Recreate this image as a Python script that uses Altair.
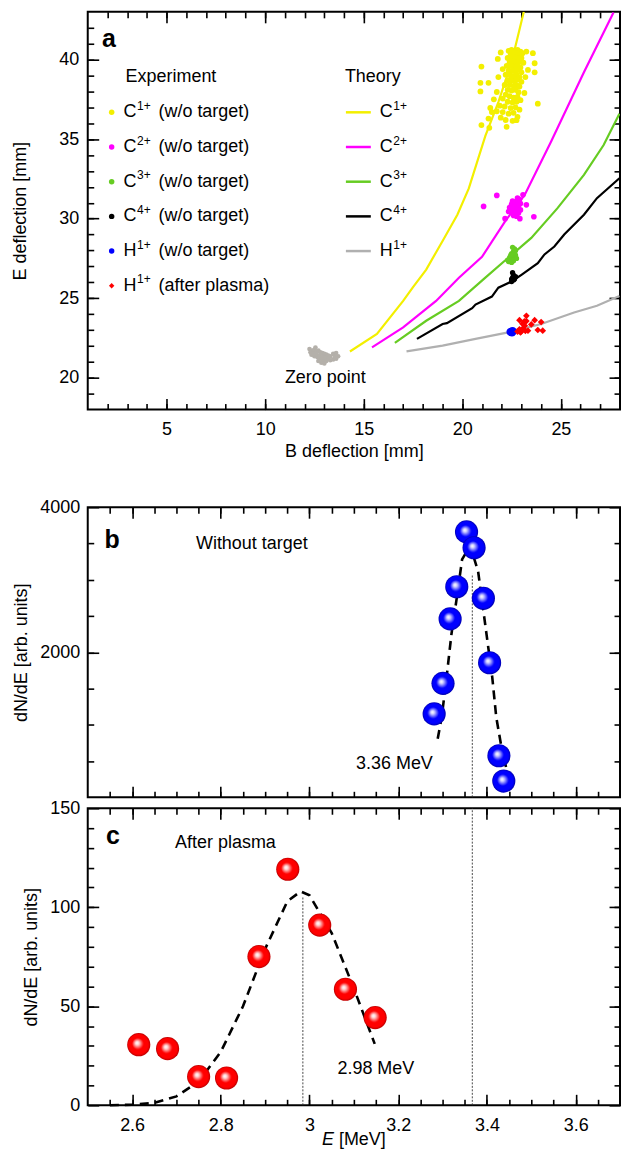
import altair as alt
import pandas as pd

FONT = "Liberation Sans"
FS = 18

# ---------------- panel a : theory curves ----------------
th_c1_x = [14.3, 15.67, 17.0, 17.5, 18.17, 19.0, 19.75, 20.33, 21.17, 21.83, 22.5, 23.12]
th_c1_y = [21.65, 22.75, 24.83, 25.7, 26.8, 28.6, 30.25, 31.9, 35.2, 37.33, 39.83, 43.0]
th_c2_x = [15.42, 17.0, 18.67, 19.83, 21.0, 22.17, 23.17, 24.5, 26.17, 27.67]
th_c2_y = [21.91, 23.16, 24.83, 26.29, 27.6, 29.83, 31.5, 34.83, 39.2, 42.96]
th_c3_x = [16.58, 18.17, 19.83, 21.17, 22.33, 23.5, 24.83, 26.17, 27.17, 27.97]
th_c3_y = [22.19, 23.58, 24.83, 26.29, 27.54, 28.79, 30.66, 32.75, 34.63, 36.6]
th_c4_x = [17.7, 19.0, 19.22, 20.5, 20.67, 21.5, 21.83, 22.5, 23.0, 23.83, 24.17, 24.67, 25.17, 26.17, 26.83, 27.97]
th_c4_y = [22.44, 23.38, 23.43, 24.37, 24.6, 25.1, 25.66, 26.05, 26.47, 27.2, 27.75, 28.25, 29.0, 30.25, 31.29, 32.54]
th_h1_x = [17.17, 19.0, 20.67, 22.33, 24.0, 25.67, 26.83, 27.97]
th_h1_y = [21.66, 22.02, 22.44, 22.85, 23.38, 24.1, 24.52, 25.14]

# ---------------- panel a : experiment ----------------
exp_c1_x = [22.35, 22.50, 22.65, 22.80, 22.95, 22.45, 22.60, 22.75, 22.90, 23.05,
            22.30, 22.55, 22.70, 22.85, 23.00, 22.40, 22.60, 22.75, 22.90, 23.10,
            22.25, 22.50, 22.65, 22.80, 22.95, 22.35, 22.55, 22.70, 22.85, 23.00,
            22.20, 22.45, 22.60, 22.75, 22.90, 22.30, 22.50, 22.65, 22.80, 23.00,
            22.15, 22.40, 22.60, 22.75, 22.90, 22.30, 22.50, 22.70, 22.85, 22.20,
            22.40, 22.60, 22.80, 22.05, 22.30, 22.55, 22.75, 22.95, 21.90, 22.15,
            22.45, 22.70, 22.90, 21.75, 22.05, 22.35, 22.60, 22.80, 21.95, 22.20,
            22.55, 22.75, 20.97, 20.92, 21.33, 20.92, 21.95, 23.25, 23.58, 23.67,
            23.33, 23.67, 23.83, 21.42, 21.50, 21.33, 20.97, 21.37, 22.25, 21.80,
            21.83, 21.75, 22.05, 23.20, 23.15, 21.60]
exp_c1_y = [40.55, 40.60, 40.55, 40.60, 40.50, 40.35, 40.30, 40.40, 40.30, 40.40,
            40.10, 40.10, 40.15, 40.05, 40.10, 39.85, 39.90, 39.80, 39.85, 39.80,
            39.60, 39.60, 39.55, 39.60, 39.50, 39.30, 39.30, 39.25, 39.35, 39.20,
            39.05, 39.00, 38.95, 39.05, 38.90, 38.70, 38.70, 38.65, 38.75, 38.60,
            38.40, 38.40, 38.35, 38.40, 38.30, 38.10, 38.05, 38.10, 37.95, 37.80,
            37.70, 37.60, 37.65, 37.55, 37.35, 37.30, 37.35, 37.45, 37.10, 37.05,
            36.95, 37.00, 36.85, 36.75, 36.70, 36.60, 36.65, 36.40, 36.35, 36.20,
            36.15, 36.19, 39.56, 38.54, 38.54, 38.00, 40.45, 40.50, 40.40, 39.77,
            39.35, 39.20, 37.23, 36.96, 36.70, 36.29, 35.88, 35.71, 35.77, 40.04,
            38.90, 37.96, 39.40, 38.90, 37.90, 37.50]
exp_c2_x = [21.08, 21.75, 23.63, 23.25, 22.17, 23.08, 22.92, 22.45, 22.55, 22.65,
            22.75, 22.60, 22.80, 22.50, 22.85, 22.90, 22.65, 22.70, 22.40, 22.85,
            22.95, 22.70, 22.60, 22.85, 22.75, 22.55, 22.95, 22.35, 22.80, 22.70]
exp_c2_y = [30.77, 31.46, 30.12, 30.87, 30.00, 31.50, 30.00, 30.55, 30.75, 30.95,
            30.65, 30.40, 31.10, 30.90, 30.80, 31.20, 31.05, 30.30, 30.70, 30.35,
            30.55, 30.60, 30.20, 31.00, 30.15, 31.10, 30.95, 30.45, 31.30, 30.85]
exp_c3_x = [22.35, 22.45, 22.55, 22.50, 22.60, 22.65, 22.55, 22.70, 22.40, 22.60,
            22.75, 22.50, 22.65, 22.45, 22.70, 22.30]
exp_c3_y = [27.30, 27.45, 27.60, 27.80, 27.95, 28.10, 28.20, 27.70, 27.55, 27.35,
            27.50, 27.25, 27.85, 27.70, 28.00, 27.40]
exp_c4_x = [22.55, 22.60, 22.55, 22.60, 22.50, 22.65, 22.70, 22.50]
exp_c4_y = [26.60, 26.45, 26.30, 26.15, 26.05, 26.20, 26.35, 26.20]
exp_h1_x = [22.45, 22.52, 22.55]
exp_h1_y = [22.88, 22.85, 22.92]
exp_hp_x = [23.00, 23.25, 22.90, 23.67, 24.00, 24.08, 23.83, 23.17, 23.33, 22.80,
            23.08, 22.90, 23.15, 23.20, 23.50, 23.05, 23.25, 22.95]
exp_hp_y = [22.92, 23.89, 23.62, 23.62, 23.50, 22.96, 23.00, 23.27, 22.96, 22.90,
            23.10, 23.05, 23.55, 22.95, 23.35, 23.40, 23.56, 22.85]
zero_x = [12.30, 12.40, 12.50, 12.60, 12.70, 12.80, 12.90, 13.00, 13.10, 13.20,
          13.30, 13.45, 13.60, 13.70, 13.60, 13.45, 13.30, 13.10, 12.95, 12.80,
          12.65, 12.50, 12.35, 12.45, 12.60, 12.75, 12.90, 13.05, 13.20, 12.85,
          13.00, 12.25, 12.55, 13.55, 12.70]
zero_y = [21.60, 21.70, 21.75, 21.65, 21.70, 21.60, 21.55, 21.50, 21.45, 21.40,
          21.35, 21.50, 21.55, 21.35, 21.20, 21.15, 21.10, 21.05, 21.10, 21.20,
          21.30, 21.35, 21.45, 21.50, 21.50, 21.40, 21.30, 21.25, 21.20, 20.95,
          20.90, 21.80, 21.90, 21.30, 21.05]

# ---------------- panels b / c ----------------
b_E = [3.354, 3.371, 3.332, 3.392, 3.317, 3.406, 3.301, 3.281, 3.427, 3.438]
b_N = [3660, 3441, 2904, 2745, 2460, 1856, 1571, 1150, 573, 224]
b_fit_E = [3.289, 3.298, 3.309, 3.320, 3.331, 3.344, 3.362, 3.380, 3.398, 3.412, 3.421, 3.434, 3.443]
b_fit_N = [807, 1104, 1654, 2250, 2708, 3281, 3470, 3120, 2296, 1654, 1104, 646, 417]
c_E = [2.615, 2.680, 2.750, 2.813, 2.886, 2.951, 3.023, 3.081, 3.148]
c_N = [30.6, 28.6, 14.5, 13.8, 75.1, 119.2, 91.0, 58.6, 44.3]
c_fit_E = [2.55, 2.60, 2.65, 2.70, 2.75, 2.80, 2.85, 2.90, 2.95, 2.98, 3.00, 3.05, 3.10, 3.147]
c_fit_N = [0, 0.3, 1.2, 4.5, 12, 27, 50, 79, 103, 108, 106, 87, 59, 31]
peak_b_E, peak_b_top = 3.367, 3080
peak_c_E, peak_c_top = 2.985, 105

YELLOW, MAGENTA, GREEN, BLACK, BLUE, RED = "#f3ef00", "#ff00ff", "#66cc22", "#000000", "#0000ff", "#ff0000"
GRAY_LINE, GRAY_PTS = "#b0b0b0", "#b4b0aa"

MAJ, MIN = 11, 6
W = 534


def ax(orient, values, size, labels=False, title=None, fmt="d", lpad=8, tpad=8):
    kw = dict(orient=orient, values=values, tickSize=size, offset=-size, domain=False,
              grid=False, ticks=True, tickColor="black", tickWidth=1.6, labels=labels,
              title=title)
    if labels:
        kw.update(labelFont=FONT, labelFontSize=FS, labelColor="black", labelPadding=lpad,
                  labelOverlap=False, labelFlush=False, format=fmt)
    if title is not None:
        kw.update(titleFont=FONT, titleFontSize=FS, titleFontWeight="normal",
                  titleColor="black", titlePadding=tpad)
    return alt.Axis(**kw)


def axis_layers(xs, ys, x0, y0, xspec, yspec):
    dummy = pd.DataFrame({"x": [x0], "y": [y0]})
    return [alt.Chart(dummy).mark_point(opacity=0, size=1).encode(
        x=alt.X("x:Q", scale=xs, axis=xa_), y=alt.Y("y:Q", scale=ys, axis=ya_))
        for xa_, ya_ in zip(xspec, yspec)]


def xy(xs, ys):
    return pd.DataFrame({"x": xs, "y": ys})


# ================= panel a =================
XA = alt.Scale(domain=[1, 28], nice=False, zero=False)
YA = alt.Scale(domain=[18, 43], nice=False, zero=False)

theory = pd.concat([
    xy(th_c1_x, th_c1_y).assign(s="C1"), xy(th_c2_x, th_c2_y).assign(s="C2"),
    xy(th_c3_x, th_c3_y).assign(s="C3"), xy(th_c4_x, th_c4_y).assign(s="C4"),
    xy(th_h1_x, th_h1_y).assign(s="H1")])
th_dom = ["C1", "C2", "C3", "C4", "H1"]
th_col = [YELLOW, MAGENTA, GREEN, BLACK, GRAY_LINE]

lines_a = alt.Chart(theory).mark_line(strokeWidth=2.2, clip=True).encode(
    x=alt.X("x:Q", scale=XA, axis=None), y=alt.Y("y:Q", scale=YA, axis=None),
    color=alt.Color("s:N", scale=alt.Scale(domain=th_dom, range=th_col), legend=None),
    detail="s:N")


def dots(xs, ys, color, size, shape="circle"):
    return alt.Chart(xy(xs, ys)).mark_point(filled=True, opacity=1, size=size, shape=shape,
                                            color=color, strokeWidth=0).encode(
        x=alt.X("x:Q", scale=XA, axis=None), y=alt.Y("y:Q", scale=YA, axis=None))


pts_a = [dots(zero_x, zero_y, GRAY_PTS, 22), dots(exp_c1_x, exp_c1_y, YELLOW, 34),
         dots(exp_c2_x, exp_c2_y, MAGENTA, 32), dots(exp_c3_x, exp_c3_y, GREEN, 28),
         dots(exp_c4_x, exp_c4_y, BLACK, 28), dots(exp_h1_x, exp_h1_y, BLUE, 70),
         dots(exp_hp_x, exp_hp_y, RED, 45, "diamond")]

txt_a = [
    alt.Chart(pd.DataFrame({"x": [13.05], "y": [19.96], "t": ["Zero point"]})).mark_text(
        font=FONT, fontSize=FS, align="center", baseline="middle", color="black").encode(
        x=alt.X("x:Q", scale=XA, axis=None), y=alt.Y("y:Q", scale=YA, axis=None), text="t:N"),
    alt.Chart(pd.DataFrame({"x": [2.08], "y": [41.3], "t": ["a"]})).mark_text(
        font=FONT, fontSize=25, fontWeight="bold", align="center", baseline="middle",
        color="black").encode(
        x=alt.X("x:Q", scale=XA, axis=None), y=alt.Y("y:Q", scale=YA, axis=None), text="t:N"),
]

# legend (pixel layout inside panel a)
leg_base = ["C", "C", "C", "C", "H", "H"]
leg_sup = ["1+", "2+", "3+", "4+", "1+", "1+"]
leg_tail = ["(w/o target)"] * 5 + ["(after plasma)"]
leg_col = [YELLOW, MAGENTA, GREEN, BLACK, BLUE, RED]
leg_shape = ["circle"] * 5 + ["diamond"]
ROW0, DROW = 100.8, 34.8
rows = [ROW0 + i * DROW for i in range(6)]

exp_leg = pd.DataFrame({"py": rows, "base": leg_base, "sup": leg_sup, "tail": leg_tail,
                        "col": leg_col, "shp": leg_shape})
th_leg = exp_leg.iloc[:5].assign(col=th_col)


def ptext(df, xpx, field, size=FS, dy=0.0):
    return alt.Chart(df).mark_text(font=FONT, fontSize=size, align="left",
                                   baseline="middle", color="black", dx=xpx, dy=dy).encode(
        x=alt.value(0), y=alt.Y("py:Q", scale=None, axis=None), text=f"{field}:N")


leg_layers = [
    alt.Chart(exp_leg).mark_point(filled=True, opacity=1, size=30, strokeWidth=0).encode(
        x=alt.value(24), y=alt.Y("py:Q", scale=None, axis=None),
        color=alt.Color("col:N", scale=None), shape=alt.Shape("shp:N", scale=None)),
    ptext(exp_leg, 36, "base"), ptext(exp_leg, 49.5, "sup", 12, -6.5), ptext(exp_leg, 71, "tail"),
    alt.Chart(th_leg).mark_rule(strokeWidth=2.5).encode(
        x=alt.value(259), x2=alt.value(284), y=alt.Y("py:Q", scale=None, axis=None),
        color=alt.Color("col:N", scale=None)),
    ptext(th_leg, 293, "base"), ptext(th_leg, 306.5, "sup", 12, -6.5),
    alt.Chart(pd.DataFrame({"py": [65.0], "t": ["Experiment"]})).mark_text(
        font=FONT, fontSize=FS, align="left", baseline="middle", color="black", dx=38).encode(
        x=alt.value(0), y=alt.Y("py:Q", scale=None, axis=None), text="t:N"),
    alt.Chart(pd.DataFrame({"py": [65.0], "t": ["Theory"]})).mark_text(
        font=FONT, fontSize=FS, align="left", baseline="middle", color="black", dx=258).encode(
        x=alt.value(0), y=alt.Y("py:Q", scale=None, axis=None), text="t:N"),
]

a_x_major, a_x_minor = [5, 10, 15, 20, 25], list(range(2, 28))
a_y_major, a_y_minor = [20, 25, 30, 35, 40], list(range(19, 43))
axes_a = axis_layers(XA, YA, 1, 18,
                     [ax("bottom", a_x_major, MAJ, True, "B deflection [mm]", "d", 11, 4),
                      ax("bottom", a_x_minor, MIN), ax("top", a_x_major, MAJ), ax("top", a_x_minor, MIN)],
                     [ax("left", a_y_major, MAJ, True, "E deflection [mm]", "d", 9, 29),
                      ax("left", a_y_minor, MIN), ax("right", a_y_major, MAJ), ax("right", a_y_minor, MIN)])

panel_a = alt.layer(lines_a, *pts_a, *txt_a, *leg_layers, *axes_a).properties(
    width=W, height=399).resolve_axis(x="independent", y="independent")

# ================= panels b, c =================
XE = alt.Scale(domain=[2.5, 3.7], nice=False, zero=False)
YB = alt.Scale(domain=[0, 4000], nice=False)
YC = alt.Scale(domain=[0, 150], nice=False)

e_major = [2.6, 2.8, 3.0, 3.2, 3.4, 3.6]
e_minor = [round(2.55 + 0.05 * i, 2) for i in range(23)]


def ball_grad(light, mid, dark):
    return alt.RadialGradient(
        gradient="radial", x1=0.42, y1=0.42, r1=0, x2=0.5, y2=0.5, r2=0.5,
        stops=[alt.GradientStop(offset=0, color="#ffffff"),
               alt.GradientStop(offset=0.15, color=light),
               alt.GradientStop(offset=0.5, color=mid),
               alt.GradientStop(offset=0.85, color=mid),
               alt.GradientStop(offset=1, color=dark)])


def spectrum(E, N, fitE, fitN, peaks, YS, grad):
    enc = dict(x=alt.X("x:Q", scale=XE, axis=None), y=alt.Y("y:Q", scale=YS, axis=None))
    fit = alt.Chart(xy(fitE, fitN)).mark_line(color="black", strokeWidth=2.6,
                                               strokeDash=[9, 6]).encode(**enc)
    rule = alt.Chart(pd.DataFrame(peaks)).mark_rule(color="#333333", strokeWidth=0.9,
                                                    strokeDash=[2, 1.5]).encode(
        x=alt.X("x:Q", scale=XE, axis=None), y=alt.Y("y:Q", scale=YS, axis=None),
        y2="y2:Q")
    balls = alt.Chart(xy(E, N)).mark_point(filled=True, opacity=1, size=540, shape="circle",
                                           fill=grad, strokeWidth=0).encode(**enc)
    return [fit, rule, balls]


def ann(x, y, t, YS, align="left", size=FS, weight="normal"):
    return alt.Chart(pd.DataFrame({"x": [x], "y": [y], "t": [t]})).mark_text(
        font=FONT, fontSize=size, fontWeight=weight, align=align, baseline="middle",
        color="black").encode(x=alt.X("x:Q", scale=XE, axis=None),
                              y=alt.Y("y:Q", scale=YS, axis=None), text="t:N")


blue_grad = ball_grad("#d0d0ff", "#0000ff", "#0000a8")
red_grad = ball_grad("#ffd8d8", "#ff0000", "#b80000")

layers_b = spectrum(b_E, b_N, b_fit_E, b_fit_N,
                    {"x": [peak_b_E], "y": [0], "y2": [peak_b_top]}, YB, blue_grad)
layers_b += [ann(2.555, 3546, "b", YB, "center", 25, "bold"),
             ann(2.744, 3496, "Without target", YB),
             ann(3.278, 454, "3.36 MeV", YB, "right")]
axes_b = axis_layers(XE, YB, 2.5, 0,
                     [ax("bottom", e_major, MAJ), ax("bottom", e_minor, MIN),
                      ax("top", e_major, MAJ), ax("top", e_minor, MIN)],
                     [ax("left", [2000, 4000], MAJ, True, "dN/dE [arb. units]", "d", 8, 9),
                      ax("left", list(range(500, 4000, 500)), MIN),
                      ax("right", [2000, 4000], MAJ), ax("right", list(range(500, 4000, 500)), MIN)])
panel_b = alt.layer(*layers_b, *axes_b).properties(width=W, height=291).resolve_axis(
    x="independent", y="independent")

layers_c = spectrum(c_E, c_N, c_fit_E, c_fit_N,
                    {"x": [peak_b_E, peak_c_E], "y": [0, 0], "y2": [150, peak_c_top]}, YC, red_grad)
layers_c += [ann(2.557, 136, "c", YC, "center", 25, "bold"),
             ann(2.697, 132.3, "After plasma", YC),
             ann(3.063, 18.5, "2.98 MeV", YC)]
xt = pd.DataFrame({"py": [332.5], "t1": ["E"], "t2": ["[MeV]"]})
layers_c += [
    alt.Chart(xt).mark_text(font=FONT, fontSize=FS, fontStyle="italic", align="left",
                            baseline="middle", color="black", dx=235).encode(
        x=alt.value(0), y=alt.Y("py:Q", scale=None, axis=None), text="t1:N"),
    alt.Chart(xt).mark_text(font=FONT, fontSize=FS, align="left", baseline="middle",
                            color="black", dx=252).encode(
        x=alt.value(0), y=alt.Y("py:Q", scale=None, axis=None), text="t2:N"),
]
axes_c = axis_layers(XE, YC, 2.5, 0,
                     [ax("bottom", e_major, MAJ, True, None, "~g", 11),
                      ax("bottom", e_minor, MIN), ax("top", e_major, MAJ), ax("top", e_minor, MIN)],
                     [ax("left", [0, 50, 100, 150], MAJ, True, "dN/dE [arb. units]", "d", 8, 9),
                      ax("left", list(range(10, 150, 10)), MIN),
                      ax("right", [0, 50, 100, 150], MAJ), ax("right", list(range(10, 150, 10)), MIN)])
panel_c = alt.layer(*layers_c, *axes_c).properties(width=W, height=298).resolve_axis(
    x="independent", y="independent")

inner = alt.vconcat(panel_b, panel_c, spacing=11, bounds="flush")
chart = alt.vconcat(panel_a, inner, spacing=98, bounds="flush").properties(
    padding={"left": 2, "right": 0, "top": 0, "bottom": 0}
).configure(font=FONT).configure_view(stroke="black", strokeWidth=2)

chart.save("out.html", embed_options={"renderer": "svg", "actions": False})
